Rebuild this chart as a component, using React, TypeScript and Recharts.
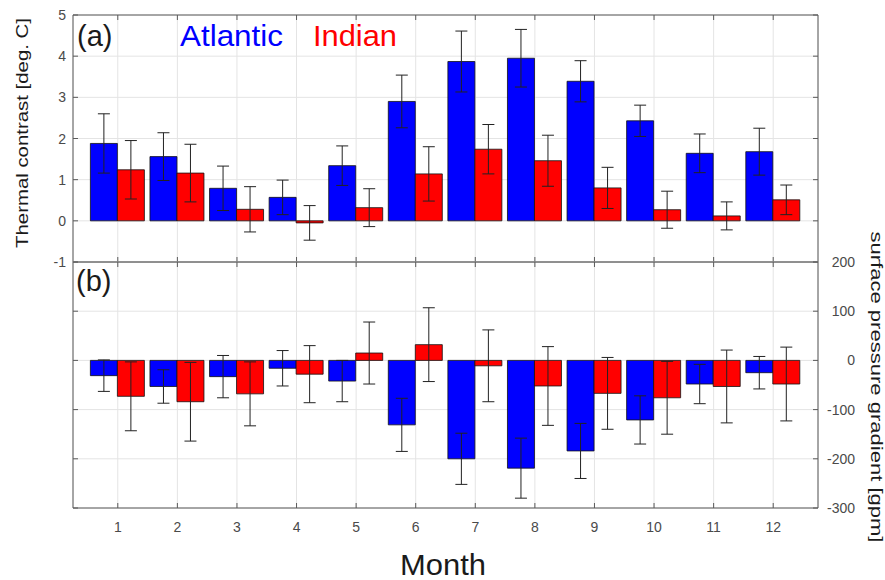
import { BarChart, Bar, XAxis, YAxis, CartesianGrid, ErrorBar } from 'recharts';

const months = ['1', '2', '3', '4', '5', '6', '7', '8', '9', '10', '11', '12'];

// panel (a): thermal contrast [deg. C]
const atlanticTemp = [1.88, 1.56, 0.79, 0.57, 1.34, 2.9, 3.87, 3.95, 3.39, 2.43, 1.64, 1.68];
const atlanticTempErr = [0.72, 0.58, 0.54, 0.42, 0.48, 0.64, 0.74, 0.7, 0.5, 0.38, 0.47, 0.57];
const indianTemp = [1.24, 1.16, 0.28, -0.05, 0.32, 1.14, 1.74, 1.46, 0.8, 0.27, 0.12, 0.51];
const indianTempErr = [0.71, 0.7, 0.55, 0.42, 0.46, 0.66, 0.6, 0.62, 0.5, 0.45, 0.34, 0.36];

// panel (b): surface pressure gradient [gpm]
const atlanticPres = [-31, -53, -33, -16, -42, -131, -200, -219, -184, -121, -48, -25];
const atlanticPresErr = [32, 34, 43, 36, 42, 54, 52, 61, 56, 49, 40, 33];
const indianPres = [-73, -84, -68, -28, 15, 32, -11, -52, -67, -76, -53, -48];
const indianPresErr = [70, 80, 65, 58, 63, 75, 73, 80, 73, 74, 74, 75];

const tempTicks = [-1, 0, 1, 2, 3, 4, 5];
const presTicks = [-300, -200, -100, 0, 100, 200];

const tempData = months.map((month, i) => ({
    month,
    atl: atlanticTemp[i],
    atlErr: atlanticTempErr[i],
    ind: indianTemp[i],
    indErr: indianTempErr[i],
}));

const presData = months.map((month, i) => ({
    month,
    atl: atlanticPres[i],
    atlErr: atlanticPresErr[i],
    ind: indianPres[i],
    indErr: indianPresErr[i],
}));

const FONT = '"Liberation Sans", Arial, Helvetica, sans-serif';
const AXIS = '#5a5a5a';
const GRID = '#e4e4e4';
const BLUE = '#0000ff';
const RED = '#ff0000';
const TICK = 5;
const tickText = { fontFamily: FONT, fontSize: 14, fill: '#4a4a4a' };

// inward MATLAB-style ticks, drawn by hand
const xTick = (dir: number, label: boolean) => (props: any) => {
    const { x, y, payload } = props;
    return (
        <g>
            <line x1={x} y1={y} x2={x} y2={y + dir * TICK} stroke={AXIS} />
            {label && (
                <text x={x} y={y + 24} textAnchor="middle" {...tickText}>
                    {payload.value}
                </text>
            )}
        </g>
    );
};

const yTick = (dir: number, label: boolean, anchorX: number) => (props: any) => {
    const { x, y, payload } = props;
    return (
        <g>
            <line x1={x} y1={y} x2={x + dir * TICK} y2={y} stroke={AXIS} />
            {label && (
                <text x={anchorX} y={y + 5} textAnchor="end" {...tickText}>
                    {payload.value}
                </text>
            )}
        </g>
    );
};

const W = 885;
const H = 580;
const LEFT = 73;
const RIGHT = W - 818;
const MID = 262;

// axes get 1px of room (recharts skips 0-sized axes), margins take the rest
const Panel = ({ data, domain, ticks, top, bottom, leftLabels, rightLabels, monthLabels }: any) => (
    <BarChart
        width={W}
        height={H}
        data={data}
        margin={{ top: top - 1, right: RIGHT - 1, left: LEFT - 1, bottom: bottom - 1 }}
        barCategoryGap="4%"
        barGap={0}
        style={{ position: 'absolute', left: 0, top: 0 }}
    >
        <CartesianGrid stroke={GRID} />
        <XAxis
            dataKey="month"
            height={1}
            padding={{ left: 15, right: 15 }}
            interval={0}
            tickSize={0}
            tickMargin={0}
            tickLine={false}
            axisLine={{ stroke: AXIS }}
            tick={xTick(-1, monthLabels)}
        />
        <XAxis
            xAxisId="t"
            orientation="top"
            dataKey="month"
            height={1}
            padding={{ left: 15, right: 15 }}
            interval={0}
            tickSize={0}
            tickMargin={0}
            tickLine={false}
            axisLine={{ stroke: AXIS }}
            tick={xTick(1, false)}
        />
        <YAxis
            type="number"
            width={1}
            domain={domain}
            ticks={ticks}
            allowDataOverflow
            interval={0}
            tickSize={0}
            tickMargin={0}
            tickLine={false}
            axisLine={{ stroke: AXIS }}
            tick={yTick(1, leftLabels, LEFT - 7)}
        />
        <YAxis
            yAxisId="r"
            orientation="right"
            type="number"
            width={1}
            domain={domain}
            ticks={ticks}
            allowDataOverflow
            interval={0}
            tickSize={0}
            tickMargin={0}
            tickLine={false}
            axisLine={{ stroke: AXIS }}
            tick={yTick(-1, rightLabels, 855)}
        />
        <Bar dataKey="atl" fill={BLUE} stroke="#111" strokeWidth={0.8} isAnimationActive={false}>
            <ErrorBar dataKey="atlErr" width={6} stroke="#222" strokeWidth={1} />
        </Bar>
        <Bar dataKey="ind" fill={RED} stroke="#111" strokeWidth={0.8} isAnimationActive={false}>
            <ErrorBar dataKey="indErr" width={6} stroke="#222" strokeWidth={1} />
        </Bar>
    </BarChart>
);

const App = () => {
    return (
        <div style={{ position: 'absolute', left: 0, top: 0, width: W, height: H, background: '#fff' }}>
            <Panel
                data={tempData}
                domain={[-1, 5]}
                ticks={tempTicks}
                top={15}
                bottom={H - MID}
                leftLabels
                rightLabels={false}
                monthLabels={false}
            />
            <Panel
                data={presData}
                domain={[-300, 200]}
                ticks={presTicks}
                top={MID}
                bottom={H - 508}
                leftLabels={false}
                rightLabels
                monthLabels
            />
            <svg width={W} height={H} style={{ position: 'absolute', left: 0, top: 0, pointerEvents: 'none' }}>
                <g fontFamily={FONT}>
                    <text x={77} y={46} fontSize={29} fill="#1a1a1a">(a)</text>
                    <text x={180} y={46} fontSize={29} fill={BLUE} textLength={103} lengthAdjust="spacingAndGlyphs">
                        Atlantic
                    </text>
                    <text x={313} y={46} fontSize={29} fill={RED} textLength={84} lengthAdjust="spacingAndGlyphs">
                        Indian
                    </text>
                    <text x={76} y={291} fontSize={29} fill="#1a1a1a">(b)</text>
                    <text
                        x={0}
                        y={0}
                        fontSize={17}
                        fill="#1a1a1a"
                        textAnchor="middle"
                        textLength={230}
                        lengthAdjust="spacingAndGlyphs"
                        transform="translate(28 133) rotate(-90)"
                    >
                        Thermal contrast [deg. C]
                    </text>
                    <text
                        x={0}
                        y={0}
                        fontSize={17}
                        fill="#1a1a1a"
                        textAnchor="middle"
                        textLength={311}
                        lengthAdjust="spacingAndGlyphs"
                        transform="translate(871 387) rotate(90)"
                    >
                        surface pressure gradient [gpm]
                    </text>
                    <text x={443} y={575} fontSize={30} fill="#1a1a1a" textAnchor="middle" textLength={86} lengthAdjust="spacingAndGlyphs">
                        Month
                    </text>
                </g>
            </svg>
        </div>
    );
};

export default App;
